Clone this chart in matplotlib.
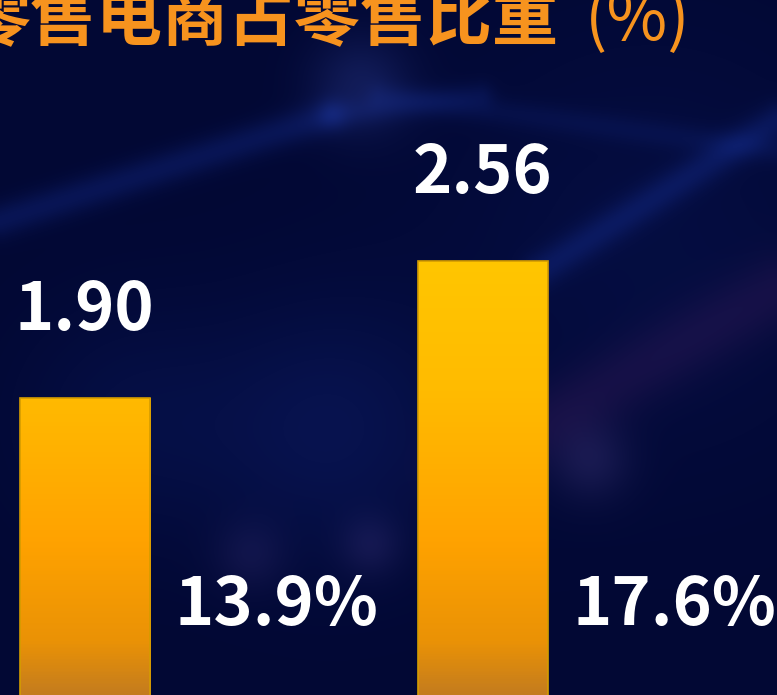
import numpy as np
import matplotlib
matplotlib.use("Agg")
import matplotlib.pyplot as plt
from matplotlib.colors import LinearSegmentedColormap

# ---- data ----
categories = ["A", "B"]
values = [1.90, 2.56]
value_labels = ["1.90", "2.56"]
share_labels = ["13.9%", "17.6%"]
title_main = "零售电商占零售比重"
title_unit = "(%)"

W, H, DPI = 777, 695, 100
plt.rcParams['font.family'] = ['Noto Sans CJK SC', 'DejaVu Sans']

fig = plt.figure(figsize=(W / DPI, H / DPI), dpi=DPI)

# background image (decorative, soft glows on navy)
bg_ax = fig.add_axes([0, 0, 1, 1])
bg_ax.set_axis_off()
yy, xx = np.mgrid[0:H, 0:W].astype(float)
img = np.zeros((H, W, 3))
img[..., 0] = 2 / 255
img[..., 1] = 8 / 255
img[..., 2] = 52 / 255

def glow(cx, cy, r, col, a):
    g = np.exp(-(((xx - cx) ** 2 + (yy - cy) ** 2) / (2 * r * r)))
    for k in range(3):
        img[..., k] += a * g * col[k]

def streak(x0, y0, x1, y1, w, col, a):
    dx, dy = x1 - x0, y1 - y0
    L2 = dx * dx + dy * dy
    t = np.clip(((xx - x0) * dx + (yy - y0) * dy) / L2, 0, 1)
    px, py = x0 + t * dx, y0 + t * dy
    d2 = (xx - px) ** 2 + (yy - py) ** 2
    g = np.exp(-d2 / (2 * w * w))
    for k in range(3):
        img[..., k] += a * g * col[k]

blue = (0.1, 0.2, 0.5)
glow(360, 85, 35, (0.2, 0.25, 0.45), 0.3)
glow(330, 430, 90, blue, 0.2)
glow(650, 250, 150, blue, 0.1)
glow(130, 420, 80, blue, 0.12)
streak(0, 220, 330, 115, 12, blue, 0.25)
streak(330, 115, 480, 95, 10, blue, 0.15)
streak(380, 95, 777, 150, 10, blue, 0.12)
streak(540, 270, 777, 120, 12, blue, 0.25)
streak(460, 470, 777, 290, 25, (0.35, 0.1, 0.2), 0.2)
glow(590, 460, 28, (0.4, 0.3, 0.45), 0.2)
glow(370, 545, 22, (0.35, 0.25, 0.4), 0.18)
glow(250, 555, 25, (0.35, 0.25, 0.4), 0.15)
img = np.clip(img, 0, 1)
bg_ax.imshow(img, extent=[0, 1, 0, 1], aspect='auto', zorder=0)
bg_ax.set_xlim(0, 1)
bg_ax.set_ylim(0, 1)

# main axes covering the figure
ax = fig.add_axes([0, 0, 1, 1])
ax.set_axis_off()
ax.patch.set_alpha(0)
px_x = 398.0
px_y = 207.58
x0_px = 85.0
zero_px_from_top = 792.4
xlim = (-x0_px / px_x, (W - x0_px) / px_x)
ylim = ((zero_px_from_top - H) / px_y, zero_px_from_top / px_y)
ax.set_xlim(*xlim)
ax.set_ylim(*ylim)

x = np.arange(len(categories))
bw = 130 / px_x
bars = ax.bar(x, values, width=bw, color='none', edgecolor='#d49c00', linewidth=1.2, zorder=3)

grad_cmap = LinearSegmentedColormap.from_list(
    'g', [(0.0, '#c47c1e'), (0.12, '#ea9206'), (0.35, '#ffa200'), (0.7, '#ffbb00'), (1.0, '#ffc600')])
grad = np.linspace(0, 1, 400).reshape(-1, 1)
for b in bars:
    im = ax.imshow(grad, extent=[b.get_x(), b.get_x() + b.get_width(), ylim[0], max(values)],
                   origin='lower', aspect='auto', cmap=grad_cmap, zorder=2)
    im.set_clip_path(b)
ax.set_xlim(*xlim)
ax.set_ylim(*ylim)

for xi, v, lab in zip(x, values, value_labels):
    ax.annotate(lab, (xi, v), xytext=(-1, 68), textcoords='offset pixels',
                ha='center', va='baseline', color='white', fontsize=48,
                fontweight='bold', zorder=5)

share_y = (zero_px_from_top - 625) / px_y
for xi, lab in zip(x, share_labels):
    ax.annotate(lab, (xi + bw / 2, share_y), xytext=(24, 0), textcoords='offset pixels',
                ha='left', va='baseline', color='white', fontsize=48,
                fontweight='bold', zorder=5)

t1 = fig.text(-35 / W, 1 - 40 / H, title_main, color='#f7931e', fontsize=47.5,
              fontweight='bold', ha='left', va='baseline')
fig.canvas.draw()
bb = t1.get_window_extent()
fig.text((bb.x1 + 26) / W, 1 - 40 / H, title_unit, color='#f7931e', fontsize=47.5,
         fontweight='medium', ha='left', va='baseline')

fig.savefig('out.png', dpi=DPI)
